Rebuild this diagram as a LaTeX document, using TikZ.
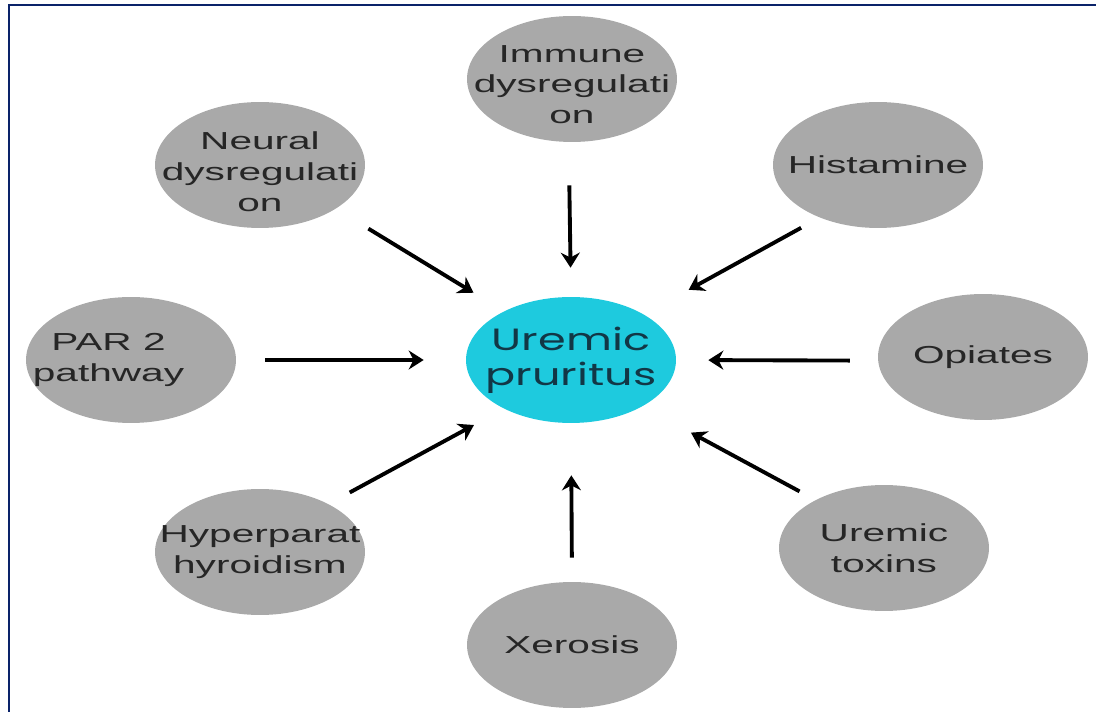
\documentclass[tikz,border=0pt]{standalone}
\usepackage{fontspec}
\setmainfont{Liberation Sans}
\newfontfamily\widesans[FakeStretch=1.65]{Liberation Sans}
\newfontfamily\widetitle[FakeStretch=1.45]{Poppins}
\usetikzlibrary{shapes.geometric,arrows.meta}
\definecolor{framenavy}{RGB}{10,35,105}
\definecolor{bubblegray}{RGB}{169,169,169}
\definecolor{pruritcyan}{RGB}{30,202,222}
\definecolor{titleink}{RGB}{18,55,70}

\begin{document}
\begin{tikzpicture}[x=0.02cm, y=-0.02cm,
  cause/.style={ellipse, fill=bubblegray, minimum width=4.2cm, minimum height=2.52cm,
    inner xsep=-2cm, inner ysep=-1cm,
    align=center, font=\widesans\fontsize{14}{17.5}\selectfont, text=black!85},
  focus/.style={cause, fill=pruritcyan, font=\widetitle\fontsize{17.5}{20}\selectfont, text=titleink},
  push/.style={-{Stealth[length=0.3cm, width=0.38cm]}, line width=2.2pt}]
  \useasboundingbox (0,0) rectangle (1096,712);
  \draw[framenavy, line width=1.6pt] (9,712) -- (9,5) -- (1096,5);

  \node[focus] (uremic) at (571,360) {Uremic\\pruritus};
  \node[cause] (immune) at (572,79) {\rule{0pt}{16pt}Immune\\dysregulati\\on};
  \node[cause] (neural) at (260,165) {\rule{0pt}{18pt}Neural\\dysregulati\\on};
  \node[cause] (histamine) at (878,165) {Histamine};
  \node[cause] (par) at (131,360) {PAR 2\hspace*{0.9cm}\\pathway\hspace*{0.9cm}};
  \node[cause] (opiates) at (983,357) {Opiates};
  \node[cause] (hyperpara) at (260,552) {Hyperparat\\hyroidism};
  \node[cause] (toxins) at (884,548) {Uremic\\toxins};
  \node[cause] (xerosis) at (572,645) {Xerosis};

  \draw[push, shorten <=0.76cm, shorten >=0.71cm] (neural.-30) -- (uremic.144);
  \draw[push, shorten <=0.86cm, shorten >=0.58cm] (immune.267) -- (uremic.90);
  \draw[push, shorten <=0.42cm, shorten >=1.02cm] (histamine.222) -- (uremic.32);
  \draw[push, shorten <=0.58cm, shorten >=0.84cm] (par.0) -- (uremic.180);
  \draw[push, shorten <=0.56cm, shorten >=0.64cm] (opiates.182) -- (uremic.0);
  \draw[push, shorten <=0.48cm, shorten >=0.68cm] (hyperpara.35) -- (uremic.216);
  \draw[push, shorten <=0.48cm, shorten >=1.04cm] (xerosis.90) -- (uremic.270);
  \draw[push, shorten <=0.36cm, shorten >=1.1cm] (toxins.145) -- (uremic.-33);
\end{tikzpicture}
\end{document}
